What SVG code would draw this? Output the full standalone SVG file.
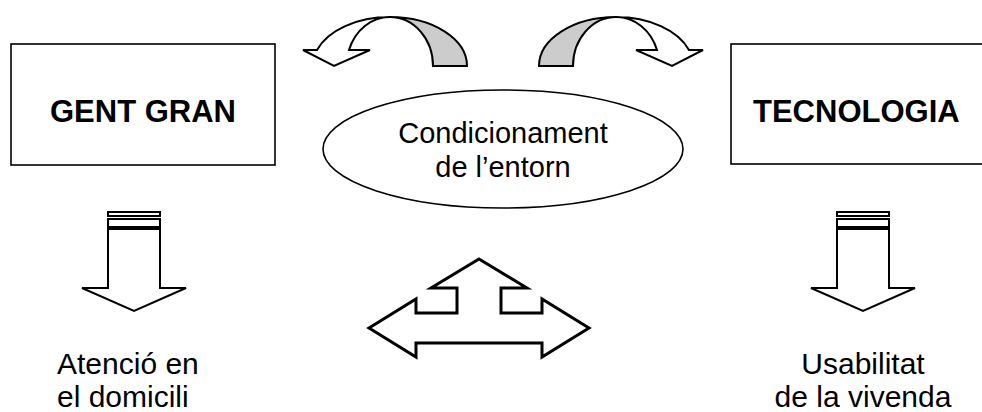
<svg xmlns="http://www.w3.org/2000/svg" width="982" height="412" viewBox="0 0 982 412">
<style>
.box{fill:#fff;stroke:#000;stroke-width:1.6}
.t{font-family:"Liberation Sans",Arial,sans-serif;fill:#000}
.b{font-weight:bold;font-size:31px}
.r{font-size:30px}
.arr{fill:#fff;stroke:#000;stroke-width:2;stroke-linejoin:miter}
.gray{fill:#cccccc;stroke:#000;stroke-width:2}
.thick{fill:#fff;stroke:#000;stroke-width:3;stroke-linejoin:miter}
</style>
<defs>
<g id="curl">
<path class="gray" d="M390 17 A77 49 0 0 1 467 66 L433 66 A43 49 0 0 0 390 17 Z"/>
<path class="arr" d="M390 17 A77 49 0 0 0 317 50 L303 50 L334 66 L370 50 L349 50 A43 49 0 0 1 390 17 Z"/>
</g>
<g id="down">
<rect x="-26" y="212" width="52" height="4" class="arr" stroke-width="1.6"/>
<rect x="-26" y="219" width="52" height="8" class="arr" stroke-width="1.6"/>
<path class="arr" d="M-26 229 L26 229 L26 288 L52 288 L0 311 L-52 288 L-26 288 Z"/>
</g>
</defs>

<g id="gent-gran">
<rect class="box" x="11" y="44" width="264" height="121"/>
<text class="t b" x="143" y="122" text-anchor="middle">GENT GRAN</text>
</g>

<g id="tecnologia">
<rect class="box" x="731" y="44" width="270" height="120"/>
<text class="t b" x="753" y="122">TECNOLOGIA</text>
</g>

<g id="condicionament">
<ellipse class="box" cx="503" cy="149" rx="180" ry="59"/>
<text class="t" font-size="29" x="503" y="143" text-anchor="middle">Condicionament</text>
<text class="t" font-size="29" x="503" y="177" text-anchor="middle">de l’entorn</text>
</g>

<g id="atencio">
<text class="t r" x="57" y="374">Atenció en</text>
<text class="t r" x="57" y="407">el domicili</text>
</g>

<g id="usabilitat">
<text class="t r" x="863" y="374" text-anchor="middle">Usabilitat</text>
<text class="t r" x="863" y="407" text-anchor="middle">de la vivenda</text>
</g>

<g id="connectors">
<use href="#curl"/>
<use href="#curl" transform="matrix(-1 0 0 1 1006 0)"/>
<use href="#down" transform="translate(134 0)"/>
<use href="#down" transform="translate(863 0)"/>
<path class="thick" d="M479 259 L527 288 L501 288 L501 313 L542 313 L542 299 L589 328 L542 357 L542 343 L416 343 L416 357 L369 328 L416 299 L416 313 L457 313 L457 288 L431 288 Z"/>
</g>
</svg>
